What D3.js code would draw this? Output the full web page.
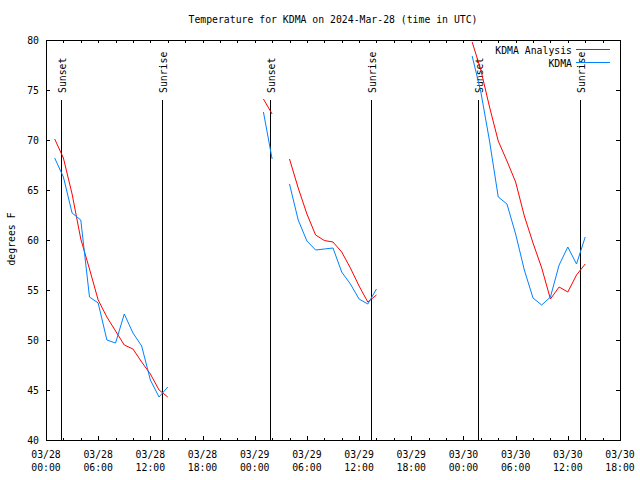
<!DOCTYPE html>
<html>
<head>
<meta charset="utf-8">
<script src="https://cdn.jsdelivr.net/npm/d3@7"></script>
<style>
  html, body { margin: 0; padding: 0; background: #fff; }
  svg { display: block; }
  text { font-family: "DejaVu Sans Mono", "Liberation Mono", monospace; font-size: 9.8px; fill: #000; }
</style>
</head>
<body>
<script>
// ---- Data ----
const chartTitle = "Temperature for KDMA on 2024-Mar-28 (time in UTC)";
const yLabel = "degrees F";
const seriesNames = ["KDMA Analysis", "KDMA"];
const seriesColors = ["#ff0000", "#0080ff"];

// Observation times (UTC); null values mark gaps
const obsTimes = [
  "2024-03-28T01:00Z","2024-03-28T02:00Z","2024-03-28T03:00Z","2024-03-28T04:00Z","2024-03-28T05:00Z",
  "2024-03-28T06:00Z","2024-03-28T07:00Z","2024-03-28T08:00Z","2024-03-28T09:00Z","2024-03-28T10:00Z",
  "2024-03-28T11:00Z","2024-03-28T12:00Z","2024-03-28T13:00Z","2024-03-28T14:00Z","2024-03-28T15:00Z",
  "2024-03-29T01:00Z","2024-03-29T02:00Z","2024-03-29T03:00Z",
  "2024-03-29T04:00Z","2024-03-29T05:00Z","2024-03-29T06:00Z","2024-03-29T07:00Z","2024-03-29T08:00Z",
  "2024-03-29T09:00Z","2024-03-29T10:00Z","2024-03-29T11:00Z","2024-03-29T12:00Z","2024-03-29T13:00Z",
  "2024-03-29T14:00Z","2024-03-29T15:00Z",
  "2024-03-30T01:00Z","2024-03-30T02:00Z","2024-03-30T03:00Z","2024-03-30T04:00Z","2024-03-30T05:00Z",
  "2024-03-30T06:00Z","2024-03-30T07:00Z","2024-03-30T08:00Z","2024-03-30T09:00Z","2024-03-30T10:00Z",
  "2024-03-30T11:00Z","2024-03-30T12:00Z","2024-03-30T13:00Z","2024-03-30T14:00Z"
];
const analysisTemps = [
  70.1, 68.2, 64.6, 60.1, 57.1, 54.0, 52.3, 50.9, 49.5, 49.1, 47.8, 46.6, 45.0, 44.3, null,
  74.1, 72.6, null,
  68.1, 65.2, 62.6, 60.5, 59.95, 59.8, 58.8, 57.2, 55.4, 53.8, 54.5, null,
  79.8, 77.0, 73.3, 69.9, 67.9, 65.8, 62.4, 59.7, 57.2, 54.1, 55.3, 54.8, 56.5, 57.6
];
const stationTemps = [
  68.2, 66.3, 62.7, 62.0, 54.3, 53.7, 50.0, 49.7, 52.6, 50.7, 49.4, 46.0, 44.3, 45.3, null,
  72.8, 68.1, null,
  65.6, 62.0, 59.9, 59.0, 59.1, 59.2, 56.8, 55.6, 54.1, 53.6, 55.1, null,
  78.4, 74.8, 69.9, 64.3, 63.6, 60.6, 57.0, 54.2, 53.5, 54.3, 57.5, 59.3, 57.6, 60.3
];

const sunEvents = ["Sunset","Sunrise","Sunset","Sunrise","Sunset","Sunrise"];
const sunTimes = ["2024-03-28T01:42Z","2024-03-28T13:22Z","2024-03-29T01:42Z","2024-03-29T13:22Z","2024-03-30T01:42Z","2024-03-30T13:22Z"];

const xStart = "2024-03-28T00:00Z", xEnd = "2024-03-30T18:00Z";
const yMin = 40, yMax = 80;
const yTicks = [40, 45, 50, 55, 60, 65, 70, 75, 80];

// ---- Layout ----
const W = 640, H = 480;
const L = 46, R = 620, T = 40, B = 440;

const svg = d3.select("body").append("svg").attr("width", W).attr("height", H);

const x = d3.scaleUtc().domain([new Date(xStart), new Date(xEnd)]).range([L, R]);
const y = d3.scaleLinear().domain([yMin, yMax]).range([B, T]);

const majorTicks = d3.utcHour.every(6).range(new Date(xStart), new Date(new Date(xEnd).getTime() + 1));
const allTicks = d3.utcHour.every(2).range(new Date(xStart), new Date(new Date(xEnd).getTime() + 1));
const minorTicks = allTicks.filter(d => d.getUTCHours() % 6 !== 0);

// Title
svg.append("text").attr("x", 333).attr("y", 23).attr("text-anchor", "middle").text(chartTitle);

// Y label
svg.append("text").attr("transform", "translate(15,239) rotate(-90)").attr("text-anchor", "middle").text(yLabel);

// Axes
const axStyle = g => {
  g.selectAll(".domain").remove();
  g.selectAll("line").attr("stroke", "#000").attr("shape-rendering", "crispEdges");
};

svg.append("g").attr("transform", `translate(0,${B})`)
  .call(d3.axisBottom(x).tickValues(majorTicks).tickSize(-4).tickSizeOuter(0).tickFormat(""))
  .call(axStyle);
svg.append("g").attr("transform", `translate(0,${B})`)
  .call(d3.axisBottom(x).tickValues(minorTicks).tickSize(-2).tickSizeOuter(0).tickFormat(""))
  .call(axStyle);
svg.append("g").attr("transform", `translate(0,${T})`)
  .call(d3.axisTop(x).tickValues(allTicks).tickSize(-3).tickSizeOuter(0).tickFormat(""))
  .call(axStyle);

// x labels (two lines)
const fmtDate = d3.utcFormat("%m/%d"), fmtTime = d3.utcFormat("%H:%M");
const xl = svg.append("g").selectAll("g").data(majorTicks).join("g");
xl.append("text").attr("x", d => x(d)).attr("y", 458).attr("text-anchor", "middle").text(d => fmtDate(d));
xl.append("text").attr("x", d => x(d)).attr("y", 471).attr("text-anchor", "middle").text(d => fmtTime(d));

svg.append("g").attr("transform", `translate(${L},0)`)
  .call(d3.axisLeft(y).tickValues(yTicks).tickSize(-4).tickSizeOuter(0).tickPadding(7).tickFormat(d3.format("d")))
  .call(axStyle)
  .call(g => g.selectAll("text").attr("dy", "0.35em").style("font-family", '"DejaVu Sans Mono", monospace').style("font-size", "9.8px"));
svg.append("g").attr("transform", `translate(${R},0)`)
  .call(d3.axisRight(y).tickValues(yTicks).tickSize(-4).tickSizeOuter(0).tickFormat(""))
  .call(axStyle);

// Border
svg.append("rect").attr("x", L).attr("y", T).attr("width", R - L).attr("height", B - T)
  .attr("fill", "none").attr("stroke", "#000").attr("shape-rendering", "crispEdges");

// Sunrise / sunset markers
const sun = svg.append("g").selectAll("g").data(sunTimes.map((t, i) => ({t: new Date(t), name: sunEvents[i]}))).join("g");
sun.append("line").attr("x1", d => Math.round(x(d.t)) + 0.5).attr("x2", d => Math.round(x(d.t)) + 0.5)
  .attr("y1", y(74)).attr("y2", B).attr("stroke", "#000").attr("stroke-width", 1);
sun.append("text")
  .attr("transform", d => `translate(${Math.round(x(d.t)) + 4.5},93) rotate(-90)`)
  .attr("text-anchor", "start").text(d => d.name);

// Data lines
const times = obsTimes.map(t => new Date(t));
const series = [analysisTemps, stationTemps];
const line = d3.line().defined(d => d.v != null).x(d => x(d.t)).y(d => y(d.v));
series.forEach((vals, i) => {
  svg.append("path")
    .datum(times.map((t, j) => ({t, v: vals[j]})))
    .attr("fill", "none").attr("stroke", seriesColors[i]).attr("stroke-width", 1)
    .attr("d", line);
});

// Legend
seriesNames.forEach((name, i) => {
  const ly = 49.5 + i * 13;
  svg.append("text").attr("x", 572).attr("y", ly + 4).attr("text-anchor", "end").text(name);
  svg.append("line").attr("x1", 576).attr("x2", 610).attr("y1", ly).attr("y2", ly)
    .attr("stroke", seriesColors[i]).attr("stroke-width", 1).attr("shape-rendering", "crispEdges");
});
</script>
</body>
</html>
